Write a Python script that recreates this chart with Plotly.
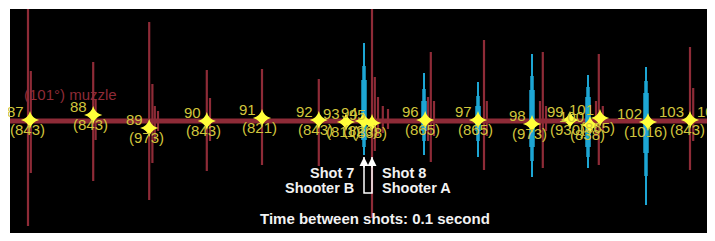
import plotly.graph_objects as go

# ---- data (time in seconds, amplitude in arbitrary units) ----
red_t   = [0.225, 0.26, 1.04, 1.07, 1.74, 1.78, 1.81, 1.85, 2.46, 2.50, 3.15, 3.86,
           4.525, 4.56, 4.60, 4.66, 4.725, 5.225, 5.26, 5.30, 5.925, 5.96,
           6.625, 6.66, 6.70, 7.325, 7.36, 7.41, 8.50, 8.54]
red_top = [1.30, 0.50, 0.59, 0.21, 0.99, 0.37, 0.15, 0.10, 0.51, 0.23, 0.52, 0.42,
           1.30, 0.44, 0.24, 0.15, 0.12, 0.24, 0.69, 0.20, 0.81, 0.20,
           0.20, 0.69, 0.15, 0.20, 0.67, 0.15, 0.74, 0.33]
red_bot = [-1.05, -0.52, -0.60, -0.19, -0.79, -0.42, -0.20, -0.10, -0.50, -0.20, -0.44, -0.45,
           -0.97, -0.30, -0.15, -0.12, -0.08, -0.20, -0.41, -0.15, -0.49, -0.15,
           -0.15, -0.47, -0.10, -0.15, -0.44, -0.10, -0.49, -0.20]

blue_t        = [4.425, 5.175, 5.85, 6.525, 7.225, 7.95]
blue_top      = [0.78, 0.48, 0.39, 0.67, 0.46, 0.54]
blue_bot      = [-0.34, -0.34, -0.36, -0.56, -0.47, -0.84]
blue_mid_top  = [0.55, 0.32, 0.25, 0.45, 0.34, 0.40]
blue_mid_bot  = [-0.26, -0.20, -0.20, -0.40, -0.36, -0.55]
blue_body_top = [0.41, 0.20, 0.15, 0.31, 0.24, 0.28]
blue_body_bot = [-0.19, -0.10, -0.10, -0.26, -0.26, -0.32]

shot_num = ["87", "88", "89", "90", "91", "92", "93", "94", "95", "96", "97",
            "98", "99", "100", "101", "102", "103", "104"]
shot_val = ["(843)", "(843)", "(973)", "(843)", "(821)", "(843)", "(811)", "(826)", "(838)",
            "(865)", "(865)", "(973)", "(930)", "(838)", "(865)", "(1016)", "(843)", "(843)"]
shot_t   = [0.25, 1.04, 1.74, 2.46, 3.15, 3.86, 4.20, 4.42, 4.525, 5.19, 5.85,
            6.525, 7.0, 7.25, 7.375, 7.975, 8.50, 8.98]
shot_a   = [0.01, 0.06, -0.07, 0.0, 0.03, 0.01, -0.01, 0.0, -0.02, 0.01, 0.01,
            -0.03, 0.01, -0.04, 0.03, -0.01, 0.01, 0.01]

shot7_t, shot8_t = 4.425, 4.525
arrow_tip, arrow_base = -0.36, -0.72

T_MAX = 8.775
PX_PER_S = 80.0

RED = "#8e2b37"
BLUE = "#1da6d4"
STAR = "#ffff3a"
LABEL = "#d2c63c"
FONT = "Liberation Sans"


def segs(ts, tops, bots):
    xs, ys = [], []
    for t, a, b in zip(ts, tops, bots):
        xs += [t, t, None]
        ys += [a, b, None]
    return xs, ys


fig = go.Figure()

# baseline band
fig.add_trace(go.Scatter(x=[0, T_MAX], y=[0, 0], mode="lines",
                         line=dict(color=RED, width=5), hoverinfo="skip"))
rx, ry = segs(red_t, red_top, red_bot)
fig.add_trace(go.Scatter(x=rx, y=ry, mode="lines", line=dict(color=RED, width=2.2),
                         hoverinfo="skip"))
bx, by = segs(blue_t, blue_top, blue_bot)
fig.add_trace(go.Scatter(x=bx, y=by, mode="lines", line=dict(color=BLUE, width=2),
                         hoverinfo="skip"))
mx, my = segs(blue_t, blue_mid_top, blue_mid_bot)
fig.add_trace(go.Scatter(x=mx, y=my, mode="lines", line=dict(color=BLUE, width=3.5),
                         hoverinfo="skip"))
bbx, bby = segs(blue_t, blue_body_top, blue_body_bot)
fig.add_trace(go.Scatter(x=bbx, y=bby, mode="lines", line=dict(color=BLUE, width=5.5),
                         hoverinfo="skip"))

# stars
fig.add_trace(go.Scatter(x=shot_t, y=shot_a, mode="markers",
                         marker=dict(symbol="circle", size=9, color=STAR, opacity=0.35,
                                     line=dict(width=0)), hoverinfo="skip"))
fig.add_trace(go.Scatter(x=shot_t, y=shot_a, mode="markers",
                         marker=dict(symbol="star-diamond", size=13, color=STAR,
                                     line=dict(width=0)), hoverinfo="skip"))

# U bracket with arrows
fig.add_trace(go.Scatter(x=[shot7_t, shot7_t, shot8_t, shot8_t],
                         y=[arrow_tip, arrow_base, arrow_base, arrow_tip], mode="lines",
                         line=dict(color="white", width=1.5), hoverinfo="skip"))

ann = []
for t in (shot7_t, shot8_t):
    ann.append(dict(x=t, y=arrow_tip, xref="x", yref="y", ax=t, ay=arrow_tip - 0.12,
                    axref="x", ayref="y", showarrow=True, arrowhead=2, arrowsize=1.2,
                    arrowwidth=1.5, arrowcolor="white", text=""))

for t, a, n, v in zip(shot_t, shot_a, shot_num, shot_val):
    # shots just past the right edge: anchor at the edge and shift by the overshoot
    extra = max(0.0, t - T_MAX) * PX_PER_S
    tx = min(t, T_MAX)
    ann.append(dict(x=tx, y=a, xref="x", yref="y", text=n, showarrow=False,
                    xanchor="right", yanchor="middle", xshift=-4 + extra, yshift=9,
                    font=dict(family=FONT, size=15, color=LABEL)))
    ann.append(dict(x=tx, y=a, xref="x", yref="y", text=v, showarrow=False,
                    xanchor="center", yanchor="middle", xshift=-3 + extra, yshift=-9,
                    font=dict(family=FONT, size=15, color=LABEL)))

ann.append(dict(x=0.15, y=0.27, xref="x", yref="y", text="(101°) muzzle", showarrow=False,
                xanchor="left", yanchor="middle",
                font=dict(family=FONT, size=15, color=RED)))
bold = dict(family=FONT, size=14.5, color="#f2f2f2")
ann.append(dict(x=shot7_t, y=-0.52, xref="x", yref="y", text="<b>Shot 7</b>", showarrow=False,
                xanchor="right", yanchor="middle", xshift=-8, font=bold))
ann.append(dict(x=shot7_t, y=-0.67, xref="x", yref="y", text="<b>Shooter B</b>", showarrow=False,
                xanchor="right", yanchor="middle", xshift=-8, font=bold))
ann.append(dict(x=shot8_t, y=-0.52, xref="x", yref="y", text="<b>Shot 8</b>", showarrow=False,
                xanchor="left", yanchor="middle", xshift=8, font=bold))
ann.append(dict(x=shot8_t, y=-0.67, xref="x", yref="y", text="<b>Shooter A</b>", showarrow=False,
                xanchor="left", yanchor="middle", xshift=8, font=bold))
ann.append(dict(x=4.56, y=-0.97, xref="x", yref="y", text="<b>Time between shots: 0.1 second</b>",
                showarrow=False, xanchor="center", yanchor="middle",
                font=dict(family=FONT, size=15, color="#f2f2f2")))

# page body has an 8px default margin: size figure so the plot lands where the reference has it
fig.update_layout(
    width=707, height=233,
    margin=dict(l=2, r=3, t=1, b=8),
    paper_bgcolor="white", plot_bgcolor="black",
    showlegend=False,
    xaxis=dict(range=[0, T_MAX], visible=False, fixedrange=True),
    yaxis=dict(range=[-1.12, 1.12], visible=False, fixedrange=True),
    annotations=ann,
)

fig.write_html("out.html")
